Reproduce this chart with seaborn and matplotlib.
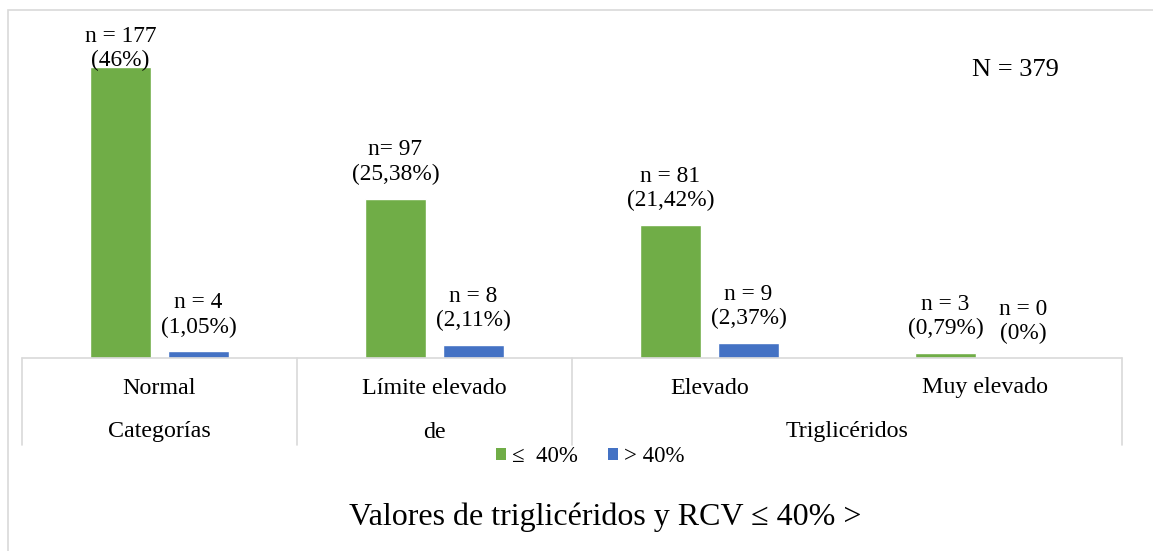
import pandas as pd
import matplotlib.pyplot as plt
import matplotlib.transforms as mtransforms
from matplotlib.patches import Rectangle, Patch
import seaborn as sns

# data
categorias = ['Normal', 'Límite elevado', 'Elevado', 'Muy elevado']
grupos = ['Categorías', 'de', 'Triglicéridos']
grupo_cats = [['Normal'], ['Límite elevado'], ['Elevado', 'Muy elevado']]
series = ['≤  40%', '> 40%']
n_bajo = [177, 97, 81, 3]
n_alto = [4, 8, 9, 0]
etiq_bajo = ['n = 177\n(46%)', 'n= 97\n(25,38%)', 'n = 81\n(21,42%)', 'n = 3\n(0,79%)']
etiq_alto = ['n = 4\n(1,05%)', 'n = 8\n(2,11%)', 'n = 9\n(2,37%)', 'n = 0\n(0%)']
total_txt = 'N = 379'
titulo = 'Valores de triglicéridos y RCV ≤ 40% >'

df = pd.DataFrame({
    'cat': categorias * 2,
    'serie': [series[0]] * 4 + [series[1]] * 4,
    'n': n_bajo + n_alto,
})

sns.set_style('white')
plt.rcParams['font.family'] = ['Liberation Serif', 'DejaVu Serif']
plt.rcParams['text.color'] = 'black'

colores = ['#70AD47', '#4472C4']
gris = '#D9D9D9'

fig = plt.figure(figsize=(11.53, 5.51), dpi=100)
W, H = 1153, 551
ax = fig.add_axes([22 / W, (H - 358) / H, 1100 / W, 336 / H])

sns.barplot(data=df, x='cat', y='n', hue='serie', order=categorias,
            hue_order=series, palette=colores, width=0.568, gap=0.225,
            legend=False, ax=ax, saturation=1)

ax.set_xlim(-0.5, 3.5)
ax.set_ylim(0, 204.4)
for s in ax.spines.values():
    s.set_visible(False)
ax.set_xticks([])
ax.set_yticks([])
ax.set_xlabel('')
ax.set_ylabel('')

# data labels (the tallest one is pushed down to stay inside, like Excel does)
ymax = ax.get_ylim()[1]
for cont, etiq in zip(ax.containers, [etiq_bajo, etiq_alto]):
    anns = ax.bar_label(cont, labels=etiq, padding=10, fontsize=16.8, linespacing=1.2,
                        color='black')
    for bar, ann in zip(cont, anns):
        if bar.get_height() > 0.8 * ymax:
            ann.xyann = (0, -3)

# multi-level category axis drawn as table
trans = mtransforms.blended_transform_factory(ax.transData, ax.transAxes)
ax.plot([-0.5, 3.5], [0, 0], color=gris, lw=1.2, transform=trans, clip_on=False)
fondo = -87 / 336
bordes = [-0.5]
idx = 0
for cats in grupo_cats:
    idx += len(cats)
    bordes.append(idx - 0.5)
for b in bordes:
    ax.plot([b, b], [0, fondo], color=gris, lw=1.2, transform=trans, clip_on=False)

for i, c in enumerate(categorias):
    ax.text(i, -30 / 336, c, transform=trans, ha='center', va='center', fontsize=17.3)

inicio = 0
for g, cats in zip(grupos, grupo_cats):
    centro = inicio + (len(cats) - 1) / 2
    ax.text(centro, -74 / 336, g, transform=trans, ha='center', va='center', fontsize=17.3)
    inicio += len(cats)

fig.text(1015 / W, (H - 70) / H, total_txt, ha='center', va='center', fontsize=19)

handles = [Patch(facecolor=c, edgecolor='none') for c in colores]
fig.legend(handles, series, loc='center', bbox_to_anchor=(590 / W, (H - 457) / H),
           ncol=2, frameon=False, fontsize=16.5, handlelength=0.45, handleheight=0.45,
           handletextpad=0.25, columnspacing=1.3)

fig.text(605 / W, (H - 517) / H, titulo, ha='center', va='center', fontsize=23)

# outer chart border
fig.add_artist(Rectangle((8 / W, -0.1), 1.2, (H - 10) / H + 0.1, transform=fig.transFigure,
                         fill=False, edgecolor=gris, lw=1.2))

fig.savefig('out.png', dpi=100)
